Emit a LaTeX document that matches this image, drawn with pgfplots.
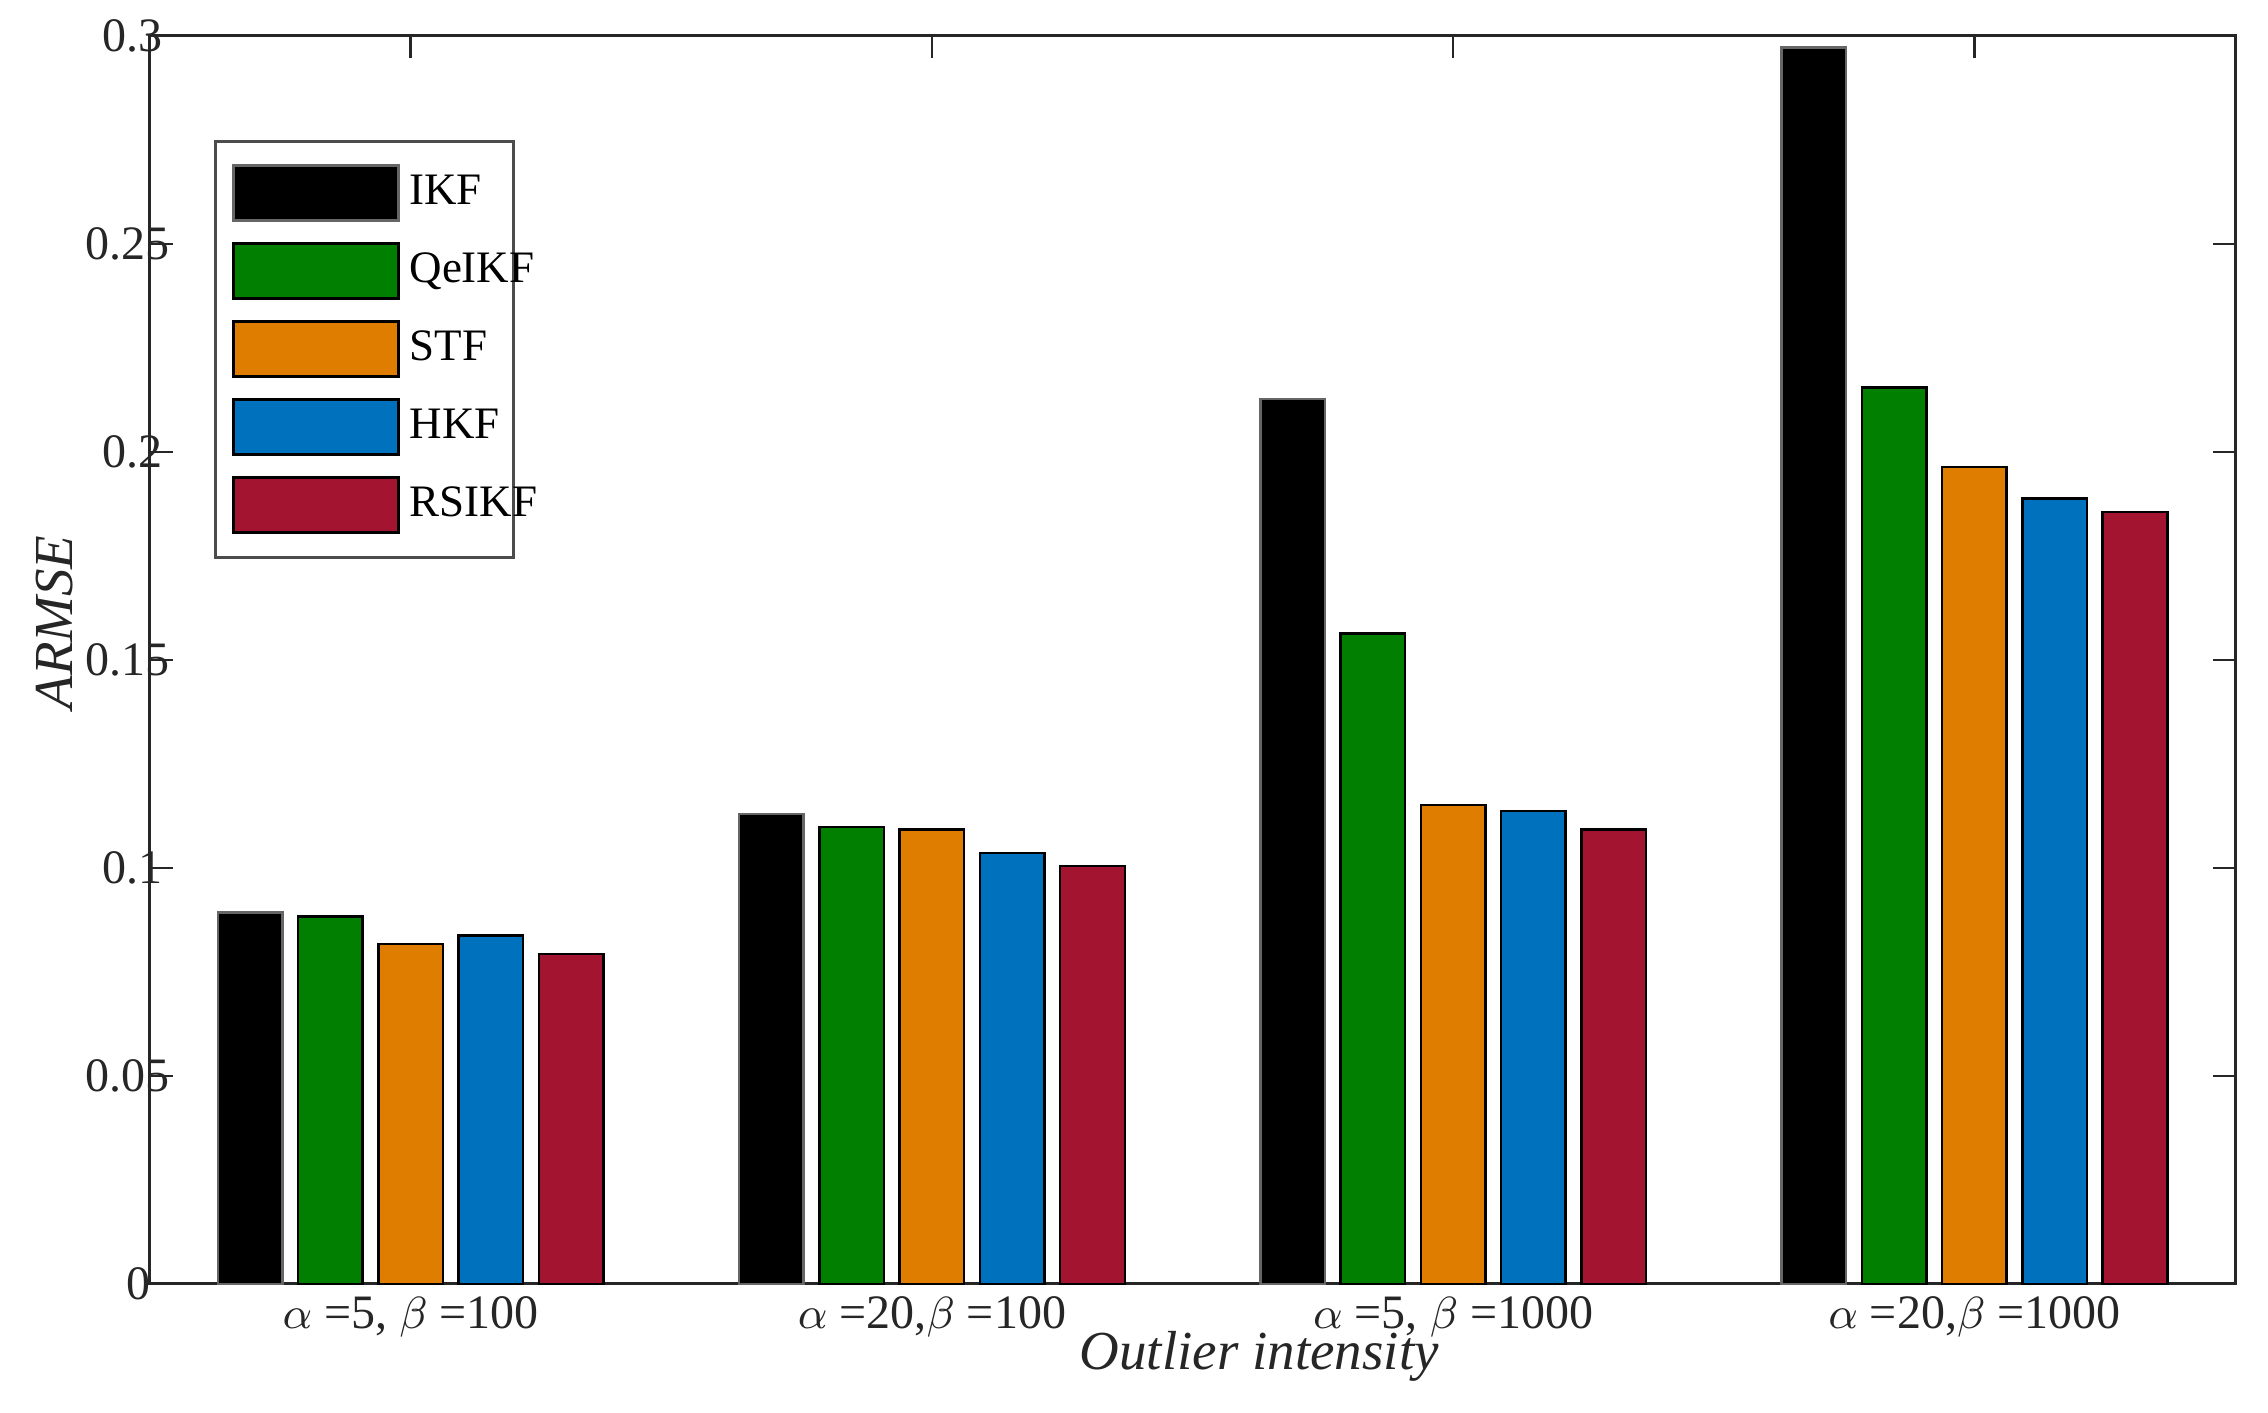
\documentclass[border=0pt]{standalone}
\usepackage{pgfplots}
\pgfplotsset{compat=1.18}
\usepackage{fontspec}
\setmainfont{Liberation Serif}
\definecolor{cgreen}{RGB}{0,127,0}
\definecolor{corange}{RGB}{222,125,0}
\definecolor{cblue}{RGB}{0,114,189}
\definecolor{cred}{RGB}{162,20,47}
\definecolor{axgray}{RGB}{38,38,38}
\newcommand{\ylab}[1]{\makebox[0.69\width][l]{#1}}
\newcommand{\legtxt}[1]{\makebox[15.5pt][l]{#1}}
\begin{document}
\begin{tikzpicture}
\begin{axis}[name=ax,
  width=417pt, height=249.6pt, scale only axis,
  xmin=0.5, xmax=4.5, ymin=0, ymax=0.3,
  ybar, bar width=0.124,
  xtick={1,2,3,4},
  xticklabels={{{\small$\alpha$} =5, {\small$\beta$} =100},
               {{\small$\alpha$} =20,{\small$\beta$} =100},
               {{\small$\alpha$} =5, {\small$\beta$} =1000},
               {{\small$\alpha$} =20,{\small$\beta$} =1000}},
  ytick={0,0.05,0.1,0.15,0.2,0.25,0.3},
  yticklabels={\ylab{0},\ylab{0.05},\ylab{0.1},\ylab{0.15},\ylab{0.2},\ylab{0.25},\ylab{0.3}},
  tick align=inside, major tick length=4.5pt,
  xtick pos=both, ytick pos=both,
  axis line style={line width=0.6pt, color=axgray},
  tick style={line width=0.5pt, color=axgray},
  tick label style={font=\fontsize{9.6}{10.5}\selectfont, color=axgray},
  yticklabel style={anchor=east, inner sep=0pt, xshift=-1.1pt},
  xticklabel style={yshift=1pt},
  xlabel={\textit{Outlier intensity}},
  ylabel={\textit{ARMSE}},
  label style={font=\fontsize{11}{12}\selectfont, color=axgray},
  xlabel style={at={(axis description cs:0.532,-0.058)}, anchor=center},
  ylabel style={at={(axis description cs:-0.0456,0.53)}, anchor=center, rotate=0},
  legend style={at={(axis description cs:0.0307,0.9167)}, anchor=north west,
    draw=black!70, line width=0.6pt, inner xsep=3.2pt, inner ysep=4.6pt, row sep=4.0pt,
    font=\fontsize{9}{10}\selectfont, cells={anchor=west}},
  legend image code/.code={\draw[#1, line width=0.6pt] (0pt,-5.5pt) rectangle (33pt,5.5pt);},
  clip=false,
]
\addplot[bar shift=-0.308, fill=black, draw=black!60, line width=0.5pt]
  coordinates {(1,0.0893) (2,0.1130) (3,0.2127) (4,0.2972)};
\addlegendentry{\legtxt{IKF}}
\addplot[bar shift=-0.154, fill=cgreen, draw=black, line width=0.5pt]
  coordinates {(1,0.0883) (2,0.1098) (3,0.1564) (4,0.2155)};
\addlegendentry{\legtxt{QeIKF}}
\addplot[bar shift=0, fill=corange, draw=black, line width=0.5pt]
  coordinates {(1,0.0817) (2,0.1092) (3,0.1151) (4,0.1964)};
\addlegendentry{\legtxt{STF}}
\addplot[bar shift=0.154, fill=cblue, draw=black, line width=0.5pt]
  coordinates {(1,0.0838) (2,0.1036) (3,0.1137) (4,0.1888)};
\addlegendentry{\legtxt{HKF}}
\addplot[bar shift=0.308, fill=cred, draw=black, line width=0.5pt]
  coordinates {(1,0.0793) (2,0.1005) (3,0.1092) (4,0.1856)};
\addlegendentry{\legtxt{RSIKF}}
\end{axis}
\path ([xshift=-30pt,yshift=-25.8pt]ax.south west) rectangle ([xshift=6.6pt,yshift=7.2pt]ax.north east);
\end{tikzpicture}
\end{document}
